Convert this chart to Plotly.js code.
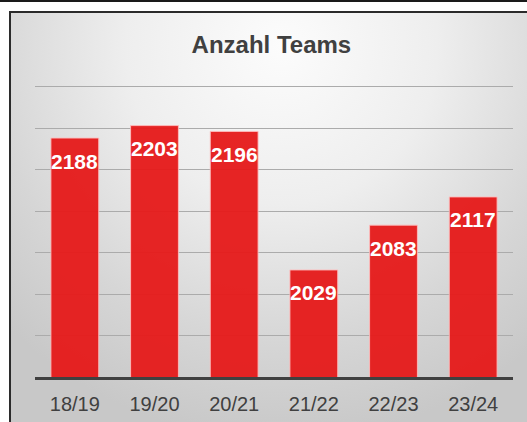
<!DOCTYPE html>
<html>
<head>
<meta charset="utf-8">
<script src="https://cdn.plot.ly/plotly-3.0.1.min.js"></script>
<style>
  html, body { margin: 0; padding: 0; background: #ffffff; }
  #wrap { position: relative; width: 527px; height: 422px; overflow: hidden; background: #ffffff; }
  #topline { position: absolute; left: 0; top: 0; width: 527px; height: 2px; background: #1a1a1a; }
  #frame { position: absolute; left: 9px; top: 11px; width: 520px; height: 415px;
           border-left: 2px solid #2b2b2b; border-top: 2px solid #2b2b2b;
           background: radial-gradient(ellipse 75% 95% at 52% 8%, #fcfcfc 0%, #eeeeee 40%, #d6d6d6 75%, #c8c8c8 100%); }
  #chart { position: absolute; left: 0; top: 0; width: 527px; height: 422px; }
</style>
</head>
<body>
<div id="wrap">
  <div id="topline"></div>
  <div id="frame"></div>
  <div id="chart"></div>
</div>
<script>
const seasons = ["18/19", "19/20", "20/21", "21/22", "22/23", "23/24"];
const teams = [2188, 2203, 2196, 2029, 2083, 2117];
const gridTicks = [1950, 2000, 2050, 2100, 2150, 2200, 2250];

const trace = {
  type: "bar",
  x: seasons,
  y: teams,
  marker: {
    color: "#e61a1a",
    opacity: 0.95,
    line: { color: "rgba(255,190,190,0.9)", width: 1 }
  },
  hoverinfo: "none"
};

const annotations = seasons.map((s, i) => ({
  x: s, y: teams[i], xref: "x", yref: "y",
  text: String(teams[i]),
  showarrow: false,
  yshift: -23,
  font: { family: "Liberation Sans, Arial, sans-serif", size: 21, color: "#ffffff", weight: "bold" }
}));

const layout = {
  width: 527, height: 422,
  margin: { l: 35, r: 14, t: 70, b: 45 },
  paper_bgcolor: "rgba(0,0,0,0)",
  plot_bgcolor: "rgba(0,0,0,0)",
  title: {
    text: "<b>Anzahl Teams</b>",
    font: { family: "Liberation Sans, Arial, sans-serif", size: 24, color: "#404040" },
    x: 0.515, xanchor: "center", y: 0.895, yanchor: "middle"
  },
  bargap: 0.4,
  showlegend: false,
  xaxis: {
    type: "category",
    showgrid: false,
    showline: true, linecolor: "#404040", linewidth: 3,
    ticks: "",
    tickfont: { family: "Liberation Sans, Arial, sans-serif", size: 20, color: "#404040" },
    ticklabelstandoff: 7
  },
  yaxis: {
    range: [1900, 2270],
    tickvals: gridTicks,
    showticklabels: false,
    showgrid: true, gridcolor: "#ababab", gridwidth: 1,
    zeroline: false, showline: false, ticks: ""
  },
  annotations: annotations
};

Plotly.newPlot("chart", [trace], layout, { displayModeBar: false, staticPlot: true });
</script>
</body>
</html>
